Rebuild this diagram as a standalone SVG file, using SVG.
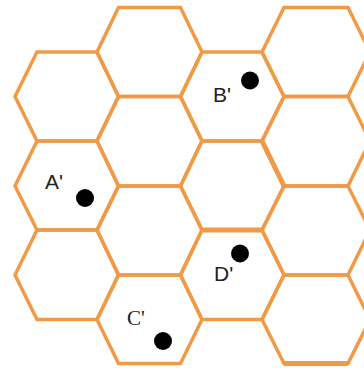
<svg xmlns="http://www.w3.org/2000/svg" width="364" height="371" viewBox="0 0 364 371">
<style>
.hex{fill:none;stroke:#F09A48;stroke-width:3.5;stroke-linejoin:miter}
.thick{fill:none;stroke:#F09A48;stroke-width:5}
.lbl{font-family:"Liberation Sans",Arial,sans-serif;font-size:21px;fill:#222}
.ser{font-family:"Liberation Serif","Times New Roman",serif;font-size:21px;fill:#222}
.dot{fill:#000}
</style>
<rect width="364" height="371" fill="#fff"/>
<g id="hexes">
<g id="c0r0"><polygon class="hex" points="15,96.5 37,52 97,52 118.5,96.5 97,141 37,141"/></g>
<g id="c0r1"><polygon class="hex" points="15,186 37,141 97,141 118.5,186 97,230 37,230"/></g>
<g id="c0r2"><polygon class="hex" points="15,275 37,230 97,230 118.5,275 97,319.5 37,319.5"/></g>
<g id="c1r0"><polygon class="hex" points="97,52 118.5,7.5 180.5,7.5 202,52 180.5,96.5 118.5,96.5"/></g>
<g id="c1r1"><polygon class="hex" points="97,141 118.5,96.5 180.5,96.5 202,141 180.5,186 118.5,186"/></g>
<g id="c1r2"><polygon class="hex" points="97,230 118.5,186 180.5,186 202,230 180.5,275 118.5,275"/></g>
<g id="c1r3"><polygon class="hex" points="97,319.5 118.5,275 180.5,275 202,319.5 180.5,363.5 118.5,363.5"/></g>
<g id="c2r0"><polygon class="hex" points="180.5,96.5 202,52 262,52 284,96.5 262,141 202,141"/></g>
<g id="c2r1"><polygon class="hex" points="180.5,186 202,141 262,141 284,186 262,230 202,230"/></g>
<g id="c2r2"><polygon class="hex" points="180.5,275 202,230 262,230 284,275 262,319.5 202,319.5"/></g>
<g id="c3r0"><polygon class="hex" points="262,52 284,7.5 348,7.5 370,52 348,96.5 284,96.5"/></g>
<g id="c3r1"><polygon class="hex" points="262,141 284,96.5 348,96.5 370,141 348,186 284,186"/></g>
<g id="c3r2"><polygon class="hex" points="262,230 284,186 348,186 370,230 348,275 284,275"/></g>
<g id="c3r3"><polygon class="hex" points="262,319.5 284,275 348,275 370,319.5 348,363.5 284,363.5"/></g>
<path class="thick" d="M202,230 H262 M284,363.5 H348 M262,141 L284,186"/>
</g>
<g id="A"><text class="lbl" x="45" y="189">A'</text><circle class="dot" cx="85" cy="198" r="9"/></g>
<g id="B"><text class="lbl" x="213" y="102">B'</text><circle class="dot" cx="250" cy="80.5" r="9"/></g>
<g id="C"><text class="ser" x="127" y="325">C'</text><circle class="dot" cx="163" cy="341" r="9"/></g>
<g id="D"><text class="lbl" x="214" y="281">D'</text><circle class="dot" cx="240" cy="253.5" r="9"/></g>
</svg>
